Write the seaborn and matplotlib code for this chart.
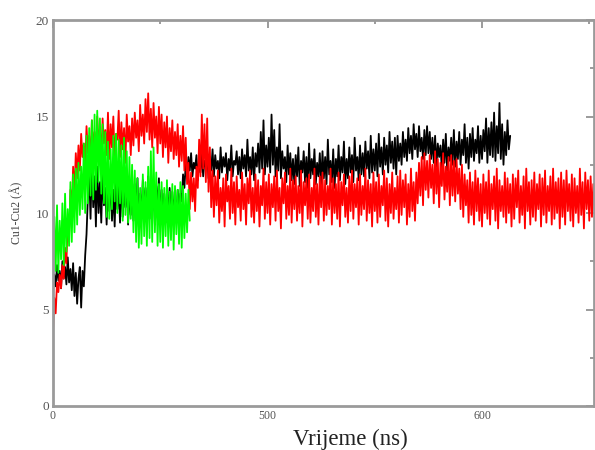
import matplotlib
matplotlib.use("Agg")
import matplotlib.pyplot as plt
import seaborn as sns
import numpy as np
import pandas as pd
from matplotlib.ticker import MultipleLocator, FixedLocator, FixedFormatter

# ---- data (Cu1-Cu2 distance, Å), sampled every 1.25 ns ----
step_ns = 1.25

black_vals = [
    5.9, 6.8, 6.2, 7.3, 6.5, 7.0, 6.1, 7.5, 6.6, 7.2, 6.3, 7.7, 6.4, 7.1, 6.0, 7.4, 5.7, 6.9, 5.3, 6.6,
    7.2, 5.1, 7.0, 6.2, 7.8, 8.9, 10.8, 12.1, 9.7, 12.6, 10.3, 11.9, 9.3, 12.4, 10.0, 11.6, 9.5, 12.2, 10.4, 11.3,
    9.4, 11.7, 10.1, 12.0, 9.6, 11.2, 9.3, 11.8, 10.2, 11.4, 9.5, 11.9, 9.8, 11.1, 10.3, 11.6, 9.4, 11.3, 9.9, 12.0,
    9.6, 11.5, 10.0, 11.8, 9.3, 11.0, 9.9, 11.7, 10.2, 11.3, 9.5, 11.9, 9.7, 11.2, 10.1, 11.6, 9.4, 11.4, 10.3, 11.8,
    9.6, 11.2, 10.0, 11.0, 9.5, 10.9, 10.2, 11.3, 9.8, 11.1, 10.1, 10.8, 9.7, 11.2, 10.3, 11.0, 10.6, 12.0, 11.3, 12.5,
    11.8, 12.9, 12.2, 13.1, 11.9, 12.6, 12.3, 13.0, 11.7, 12.8, 12.1, 13.2, 11.9, 12.7, 12.4, 13.0, 11.8, 12.9, 12.2, 13.3,
    11.9, 13.0, 12.3, 12.7, 11.8, 13.4, 12.1, 12.9, 12.4, 13.1, 11.7, 12.8, 12.2, 13.5, 11.9, 12.7, 12.5, 13.2, 12.0, 12.9,
    11.8, 13.3, 12.3, 13.0, 11.9, 13.8, 12.2, 12.9, 12.0, 13.4, 11.7, 13.1, 12.4, 13.6, 12.1, 14.2, 12.3, 14.8, 12.0, 13.5,
    12.4, 13.9, 12.1, 15.1, 12.5, 14.3, 11.9, 13.4, 12.2, 14.6, 11.8, 13.2, 12.3, 12.9, 11.6, 13.5, 12.0, 13.1, 11.7, 12.8,
    11.5, 13.0, 11.9, 13.4, 11.4, 12.7, 12.1, 13.2, 11.6, 12.9, 11.3, 13.6, 11.8, 12.8, 12.0, 13.3, 11.5, 12.6, 11.9, 13.1,
    11.4, 13.2, 11.8, 12.9, 11.5, 13.8, 12.0, 12.7, 11.6, 13.3, 11.3, 12.8, 11.9, 13.5, 11.7, 12.9, 12.1, 13.7, 11.5, 12.8,
    11.8, 13.4, 12.1, 13.0, 11.6, 13.9, 12.2, 12.9, 11.7, 13.5, 12.0, 13.1, 11.9, 13.7, 12.3, 13.2, 11.8, 14.0, 12.1, 13.3,
    12.2, 13.6, 11.9, 14.1, 12.4, 13.4, 12.0, 13.9, 12.5, 13.5, 12.1, 14.2, 12.6, 13.7, 12.3, 13.9, 12.0, 14.0, 12.7, 13.6,
    12.5, 14.2, 12.9, 13.8, 12.7, 14.4, 13.1, 14.0, 12.8, 14.6, 13.3, 14.1, 12.9, 14.5, 13.2, 13.9, 12.8, 14.3, 13.0, 14.5,
    13.1, 14.2, 12.8, 13.9, 12.6, 14.0, 12.4, 13.6, 12.9, 13.5, 12.3, 13.8, 12.6, 14.1, 12.2, 13.4, 12.7, 13.9, 12.5, 14.3,
    12.4, 13.7, 12.8, 14.2, 12.5, 13.8, 13.0, 14.6, 12.6, 13.9, 12.3, 14.1, 12.9, 14.4, 12.7, 13.8, 13.1, 14.5, 12.6, 14.0,
    12.8, 14.3, 13.2, 14.9, 12.6, 14.4, 13.0, 14.7, 12.9, 15.2, 12.7, 14.5, 13.1, 15.7, 12.8, 14.6, 12.5, 14.2, 13.0, 14.8,
    13.3, 14.0,
]

red_vals = [
    3.9, 5.6, 4.8, 6.4, 5.9, 6.8, 6.1, 7.3, 6.6, 8.2, 7.4, 9.6, 8.8, 11.2, 10.1, 12.4, 11.0, 13.1, 11.8, 13.5,
    12.2, 14.1, 12.9, 13.6, 12.4, 14.5, 13.1, 14.0, 12.7, 14.8, 13.3, 14.2, 12.9, 15.0, 13.5, 14.4, 12.8, 14.9, 13.6, 14.3,
    13.0, 15.2, 12.8, 14.6, 13.4, 15.0, 12.7, 14.1, 13.8, 15.3, 12.9, 14.7, 13.3, 14.4, 12.6, 15.1, 13.7, 14.5, 13.0, 14.9,
    13.5, 15.2, 13.9, 14.8, 13.2, 15.6, 14.0, 15.1, 13.6, 15.9, 14.2, 16.2, 13.8, 15.4, 13.4, 15.7, 13.9, 15.0, 13.1, 15.5,
    13.6, 15.1, 12.9, 14.7, 13.4, 15.0, 12.6, 14.4, 13.2, 14.8, 12.8, 14.2, 13.0, 14.6, 12.4, 14.0, 12.7, 14.5, 12.2, 13.9,
    11.5, 12.6, 10.2, 12.1, 10.6, 11.8, 10.1, 12.4, 11.3, 13.8, 11.9, 15.1, 12.3, 14.6, 11.6, 14.9, 11.1, 13.4, 10.3, 12.2,
    9.8, 11.9, 10.4, 12.2, 9.5, 11.3, 10.1, 11.8, 9.3, 12.0, 10.6, 11.4, 9.7, 12.3, 10.0, 11.6, 9.4, 11.9, 10.3, 11.2,
    9.6, 12.1, 10.2, 11.5, 9.4, 11.8, 10.5, 12.2, 9.8, 11.3, 9.5, 12.0, 10.1, 11.7, 9.3, 11.4, 10.4, 12.3, 9.7, 11.6,
    10.0, 12.0, 9.4, 11.5, 10.3, 11.9, 9.6, 12.2, 10.1, 11.3, 9.2, 11.8, 10.5, 12.1, 9.7, 11.4, 9.9, 12.3, 9.5, 11.7,
    10.2, 11.9, 9.6, 11.4, 10.0, 12.2, 9.3, 11.6, 10.4, 11.8, 9.7, 12.0, 9.5, 11.3, 10.1, 12.3, 9.8, 11.5, 9.4, 11.9,
    10.3, 12.1, 9.6, 11.7, 9.9, 11.4, 10.2, 12.3, 9.4, 11.8, 10.0, 11.5, 9.7, 12.1, 9.3, 11.6, 10.4, 12.0, 9.8, 11.3,
    9.5, 11.9, 10.1, 12.2, 9.7, 11.5, 10.3, 11.8, 9.4, 12.0, 9.9, 11.4, 10.2, 12.3, 9.6, 11.7, 10.0, 11.5, 9.3, 12.1,
    10.1, 11.6, 9.5, 12.0, 9.8, 11.4, 10.4, 12.2, 9.6, 11.8, 9.3, 11.5, 10.0, 12.1, 9.7, 11.3, 10.2, 11.9, 9.5, 12.2,
    9.9, 11.7, 10.3, 12.0, 9.4, 11.5, 9.8, 12.3, 10.1, 11.6, 9.6, 12.1, 10.5, 12.6, 10.9, 12.9, 10.4, 13.1, 11.2, 12.7,
    10.8, 13.0, 11.3, 12.5, 10.5, 13.2, 11.0, 12.8, 10.3, 12.6, 11.4, 13.1, 10.7, 12.4, 11.1, 12.9, 10.4, 13.0, 10.9, 12.7,
    10.6, 12.8, 11.0, 12.3, 10.2, 12.5, 9.8, 12.0, 10.4, 11.7, 9.5, 12.1, 9.9, 11.6, 9.4, 12.2, 10.1, 11.8, 9.6, 11.5,
    9.3, 12.0, 10.0, 11.6, 9.7, 12.2, 9.4, 11.5, 10.2, 11.9, 9.6, 12.3, 9.2, 11.7, 10.1, 11.4, 9.8, 12.1, 9.5, 11.8,
    10.0, 11.5, 9.3, 12.0, 9.7, 11.8, 10.3, 12.2, 9.5, 11.4, 9.9, 11.9, 9.2, 12.3, 10.1, 11.6, 9.4, 11.7, 9.8, 12.1,
    9.6, 11.5, 10.2, 12.0, 9.3, 11.8, 9.9, 12.2, 9.5, 11.4, 10.1, 11.9, 9.4, 12.3, 9.7, 11.6, 10.0, 11.8, 9.2, 12.1,
    9.8, 11.7, 9.4, 12.2, 10.1, 11.5, 9.6, 12.0, 9.3, 11.8, 10.0, 11.4, 9.5, 12.3, 9.9, 11.6, 9.2, 12.1, 10.2, 11.7,
    9.6, 11.9, 9.8, 11.5, 10.1,
]

green_vals = [
    6.7, 9.8, 7.0, 10.4, 6.9, 9.6, 7.6, 10.5, 7.3, 11.0, 8.0, 10.2, 8.3, 11.6, 8.5, 12.0, 9.0, 12.3, 9.4, 12.6,
    9.9, 12.4, 10.2, 13.6, 10.0, 14.0, 10.5, 14.4, 10.9, 14.8, 10.7, 15.1, 11.2, 15.3, 11.6, 14.9, 11.0, 14.6, 10.5, 14.2,
    9.8, 13.7, 9.7, 13.3, 10.2, 14.0, 10.6, 14.1, 10.0, 13.8, 10.5, 13.5, 9.6, 13.9, 9.9, 13.2, 9.5, 12.9, 9.7, 12.5,
    9.0, 12.2, 8.5, 11.8, 8.2, 11.3, 8.4, 12.0, 8.8, 11.6, 8.3, 12.4, 8.7, 13.2, 8.5, 13.4, 9.0, 12.1, 8.3, 11.5,
    8.5, 11.6, 8.2, 11.3, 8.8, 11.7, 8.3, 11.1, 8.6, 11.5, 8.1, 11.4, 8.9, 11.2, 8.4, 11.6, 8.2, 11.4, 8.7, 11.0,
    9.0, 11.2, 9.6,
]

series_names = ["black", "red", "green"]
series_colors = ["#000000", "#ff0000", "#00ff00"]

x_tick_pos = [0, 200, 400]
x_tick_labels = ["0", "500", "600"]
y_ticks = [0, 5, 10, 15, 20]

frames = []
for name, vals in zip(series_names, [black_vals, red_vals, green_vals]):
    t = np.arange(len(vals)) * step_ns
    frames.append(pd.DataFrame({"t": t, "d": vals, "set": name}))
df = pd.concat(frames, ignore_index=True)

sns.set_style("white")
plt.rcParams["font.family"] = ["Liberation Serif", "DejaVu Serif"]

fig = plt.figure(figsize=(5.95, 4.5), dpi=100)
ax = fig.add_axes([53 / 595, 44 / 450, 541 / 595, 386 / 450])

for name, col in zip(series_names, series_colors):
    sns.lineplot(data=df[df["set"] == name], x="t", y="d", color=col,
                 linewidth=1.3, estimator=None, sort=False, ax=ax, legend=False)

ax.set_xlim(0, 504.4)
ax.set_ylim(0, 20)
ax.xaxis.set_major_locator(FixedLocator(x_tick_pos))
ax.xaxis.set_major_formatter(FixedFormatter(x_tick_labels))
ax.xaxis.set_minor_locator(MultipleLocator(100))
ax.set_yticks(y_ticks)
ax.yaxis.set_minor_locator(MultipleLocator(2.5))

ax.tick_params(which="both", direction="in", right=True, top=True,
               colors="#8a8a8a", labelcolor="#555555", width=1.2)
ax.tick_params(which="major", length=6, pad=3)
ax.tick_params(axis="y", which="major", labelsize=9.5)
ax.tick_params(axis="x", which="major", labelsize=8.5)
ax.tick_params(which="minor", length=3)

for s in ax.spines.values():
    s.set_color("#9a9a9a")
    s.set_linewidth(2)
    s.set_visible(True)

ax.set_xlabel("Vrijeme (ns)", fontsize=16.5, color="#222222")
ax.xaxis.set_label_coords(0.55, -0.058)
ax.set_ylabel("Cu1-Cu2 (Å)", fontsize=8.5, color="#444444", labelpad=9)

fig.savefig("out.png", dpi=100, facecolor="white")
